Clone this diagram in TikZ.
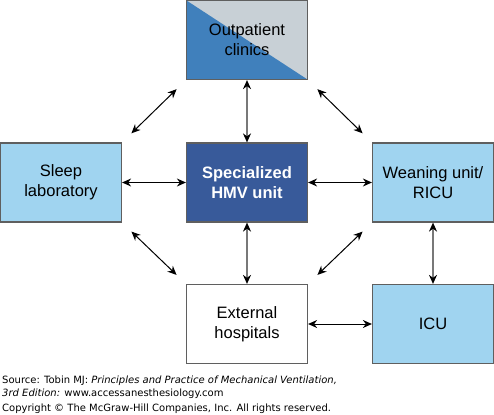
\documentclass[tikz,border=0pt]{standalone}
\usepackage{fontspec}
\setmainfont{Liberation Sans}
\newfontfamily\capfont{DejaVu Sans}
\usepackage{xcolor}
\usetikzlibrary{positioning,arrows.meta}
\definecolor{lightbox}{RGB}{160,212,240}
\definecolor{darkbox}{RGB}{56,90,154}
\definecolor{outblue}{RGB}{64,128,188}
\definecolor{outgray}{RGB}{200,208,214}
\definecolor{boxline}{RGB}{95,95,95}
\definecolor{shaftgray}{RGB}{120,120,120}
\tikzset{
  unitbox/.style ={rectangle, draw=boxline, line width=1.2pt, inner sep=0pt, minimum width=121pt, minimum height=79pt, align=center, font=\fontsize{16.5}{20}\selectfont},
  lightunit/.style={unitbox, fill=lightbox},
  hmvunit/.style ={unitbox, fill=darkbox, text=white, font=\fontsize{16.5}{20}\selectfont\bfseries},
  extunit/.style ={unitbox, fill=white},
  hflow/.style   ={{Stealth[length=9pt,width=8pt]}-{Stealth[length=9pt,width=8pt]}, draw=black, line width=1pt},
  vflow/.style   ={{Stealth[length=9pt,width=8pt,color=black]}-{Stealth[length=9pt,width=8pt,color=black]}, draw=shaftgray, line width=1.6pt},
  dflow/.style   ={hflow, shorten <=13pt, shorten >=13pt},
}
\begin{document}
\begin{tikzpicture}[x=1pt,y=-1pt]
\useasboundingbox (0,0) rectangle (494,414);
% --- top row ---
\node[unitbox, fill=outgray, path picture={
  \fill[outblue] (path picture bounding box.north west) -- (path picture bounding box.south west)
    -- (path picture bounding box.south east) -- cycle;}] (outpat) at (247,40) {Outpatient\\clinics};
% --- middle row ---
\node[lightunit] (sleep) at (61,182.5)  {Sleep\\laboratory};
\node[hmvunit]   (hmv)   at (247,182.5) {Specialized\\HMV unit};
\node[lightunit] (wean)  at (433,182.5) {Weaning unit/\\RICU};
% --- bottom row ---
\node[extunit]   (ext)   at (247,324)   {External\\hospitals};
\node[lightunit] (icu)   at (433,324)   {ICU};
% --- arrows ---
\draw[hflow] (sleep.east) -- (hmv.west);
\draw[hflow] (hmv.east) -- (wean.west);
\draw[hflow] (ext.east) -- (icu.west);
\draw[vflow] (outpat.south) -- (hmv.north);
\draw[vflow] (hmv.south) -- (ext.north);
\draw[vflow] (wean.south) -- (icu.north);
\draw[dflow] (sleep.north east) -- (outpat.south west);
\draw[dflow] (outpat.south east) -- (wean.north west);
\draw[dflow] (sleep.south east) -- (ext.north west);
\draw[dflow] (ext.north east) -- (wean.south west);
% --- source line ---
\node[anchor=base west, inner sep=0pt, align=left, font=\capfont\fontsize{10}{13}\selectfont] (src) at (2,411)
  {Source: Tobin MJ: \textit{Principles and Practice of Mechanical Ventilation,}\\
   \textit{3rd Edition:} www.accessanesthesiology.com\\[2pt]
   Copyright \textcopyright{} The McGraw-Hill Companies, Inc. All rights reserved.};
\end{tikzpicture}
\end{document}
